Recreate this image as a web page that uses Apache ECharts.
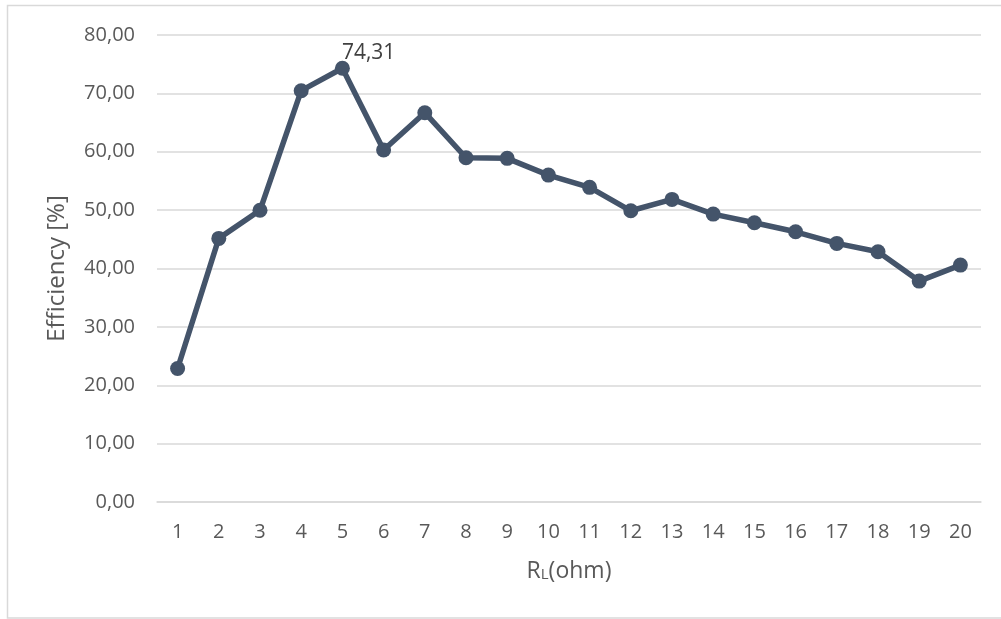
<!DOCTYPE html>
<html>
<head>
<meta charset="utf-8">
<script src="https://cdn.jsdelivr.net/npm/echarts@6/dist/echarts.min.js"></script>
<style>
  html, body { margin: 0; padding: 0; background: #fff; }
  #chart { width: 1001px; height: 619px; }
</style>
</head>
<body>
<div id="chart"></div>
<script>
// Load resistance steps (ohm) and measured efficiency (%)
const resistance = ['1','2','3','4','5','6','7','8','9','10','11','12','13','14','15','16','17','18','19','20'];
const efficiency = [22.87, 45.16, 49.97, 70.46, 74.31, 60.29, 66.69, 58.97, 58.87, 56.00,
                    53.90, 49.89, 51.84, 49.32, 47.83, 46.29, 44.30, 42.86, 37.84, 40.58];
const labelledIndex = 4; // peak efficiency point carries a value label

const FONT = 'Open Sans';
const fmt = v => v.toFixed(2).replace('.', ',');

const chart = echarts.init(document.getElementById('chart'), null, { renderer: 'canvas' });

chart.setOption({
  backgroundColor: '#ffffff',
  animation: false,
  graphic: [{
    type: 'rect',
    shape: { x: 7.5, y: 5.5, width: 1010, height: 612.5 },
    style: { fill: 'none', stroke: '#d9d9d9', lineWidth: 1.5 },
    silent: true
  }],
  grid: { left: 157, right: 20, top: 35, bottom: 117, containLabel: false },
  xAxis: {
    type: 'category',
    data: resistance,
    boundaryGap: true,
    axisLine: { show: true, lineStyle: { color: '#d9d9d9', width: 1.5 } },
    axisTick: { show: false },
    axisLabel: { color: '#595959', fontFamily: FONT, fontSize: 20, margin: 20 },
    name: '{a|R}{s|L}{a|(ohm)}',
    nameLocation: 'middle',
    nameGap: 58,
    nameTextStyle: {
      rich: {
        a: { color: '#595959', fontFamily: FONT, fontSize: 23 },
        s: { color: '#595959', fontFamily: FONT, fontSize: 15, verticalAlign: 'bottom', padding: [0, 0, 1, 0] }
      }
    }
  },
  yAxis: {
    type: 'value',
    min: 0,
    max: 80,
    interval: 10,
    axisLine: { show: false },
    axisTick: { show: false },
    splitLine: { lineStyle: { color: '#d9d9d9', width: 1.5 } },
    axisLabel: { color: '#595959', fontFamily: FONT, fontSize: 20, margin: 22, formatter: v => fmt(v) },
    name: 'Efficiency [%]',
    nameLocation: 'middle',
    nameRotate: 90,
    nameGap: 88,
    nameTextStyle: { color: '#595959', fontFamily: FONT, fontSize: 24 }
  },
  series: [{
    type: 'line',
    data: efficiency.map((v, i) => i === labelledIndex
      ? { value: v, label: { show: true } }
      : v),
    lineStyle: { color: '#44546a', width: 5.5 },
    itemStyle: { color: '#44546a' },
    symbol: 'circle',
    symbolSize: 15,
    showAllSymbol: true,
    label: {
      show: false,
      position: [7, 3],
      align: 'left',
      verticalAlign: 'bottom',
      color: '#404040',
      fontFamily: FONT,
      fontSize: 21,
      formatter: p => fmt(p.value)
    },
    emphasis: { disabled: true }
  }]
});
</script>
</body>
</html>
